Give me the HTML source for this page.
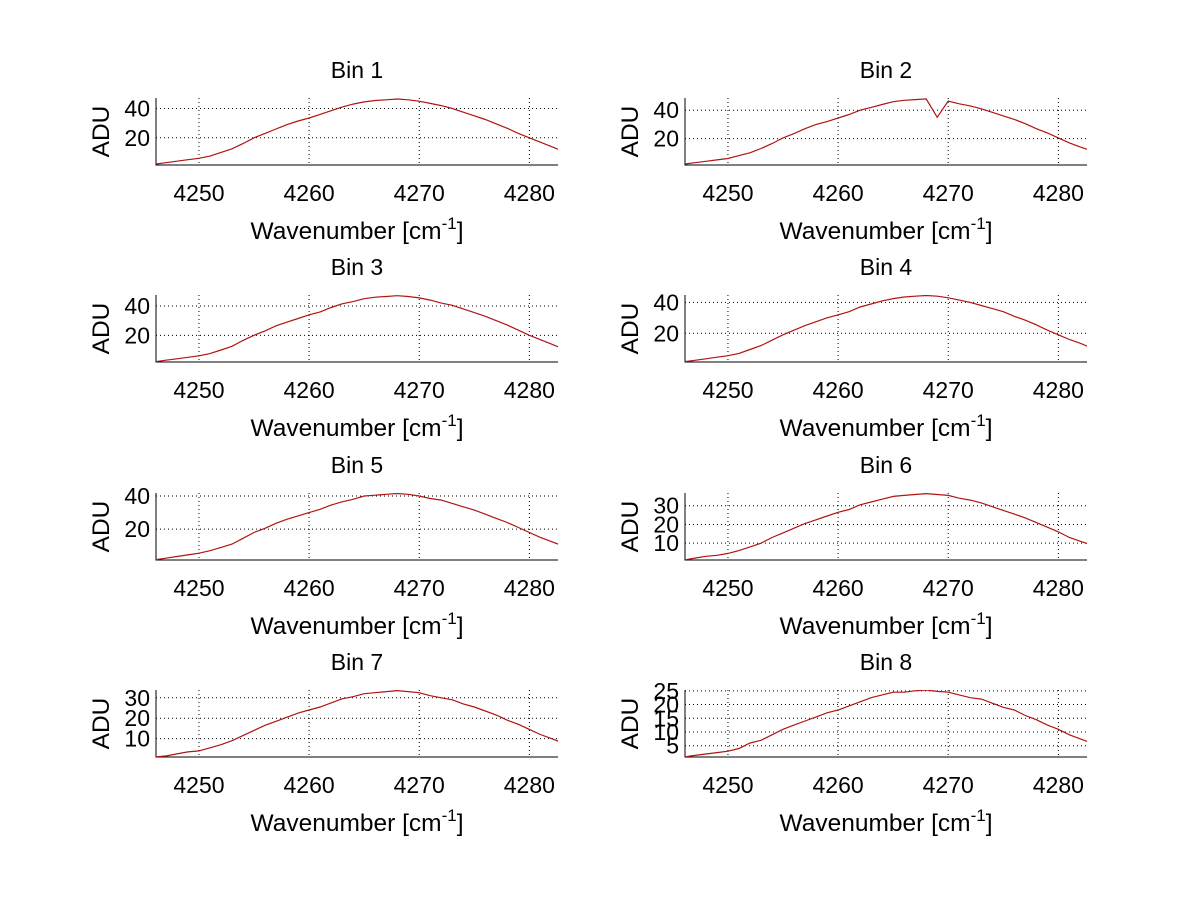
<!DOCTYPE html>
<html><head><meta charset="utf-8"><style>
html,body{margin:0;padding:0;background:#fff;}
svg{display:block;font-family:"Liberation Sans",sans-serif;}
</style></head><body>
<svg id="fig" width="1200" height="901" viewBox="0 0 1200 901" xmlns="http://www.w3.org/2000/svg"></svg>
<script>
const wavenumbers=[4246,4247,4248,4249,4250,4251,4252,4253,4254,4255,4256,4257,4258,4259,4260,4261,4262,4263,4264,4265,4266,4267,4268,4269,4270,4271,4272,4273,4274,4275,4276,4277,4278,4279,4280,4281,4282,4283];
const bin1=[2,3,4,5,6,7.5,10,12.5,16,20,23,26,29,31.5,33.5,36,38.5,41,43,44.5,45.5,46,46.5,46,45,43.5,42,40,37.5,35,32.5,29.5,26.5,23,20,17,14,11];
const bin2=[2,3,4,5,6,8,10,13,16.5,20.5,23.5,27,30,32,34.5,37,40,42,44,46,47,47.5,48,35,46.5,44.5,43,41,38.5,36,33.5,30.5,27,24,20.5,17,14,11.5];
const bin3=[2,3,4,5,6,7.5,10,12.5,16.5,20,23,26.5,29,31.5,34,36,39,41.5,43,45,46,46.5,47,46.5,45.5,44,42,40.5,38,35.5,33,30,27,23.5,20,17,14,11];
const bin4=[1.5,2.5,3.5,4.5,5.5,7,9.5,12,15.5,19,22,25,27.5,30,32,34,37,39,41,42.5,43.5,44,44.5,44,43,41.5,40,38,36,34,31,28.5,25.5,22,19,16,13.5,10.5];
const bin5=[1.5,2.5,3.5,4.5,5.5,7,9,11,14.5,18,20.5,23.5,26,28,30,32,34.5,36.5,38,40,40.5,41,41.5,41,40,38.5,37.5,35.5,33.5,31.5,29,26.5,24,21,18,15,12.5,10];
const bin6=[1,2,3,3.5,4.5,6,8,10,13,15.5,18,20.5,22.5,24.5,26.5,28,30.5,32,33.5,35,35.5,36,36.5,36,35.5,34,33,31.5,29.5,27.5,25.5,23.5,21,18.5,16,13,11,9];
const bin7=[1,1.5,2.5,3.5,4,5.5,7,9,11.5,14,16.5,18.5,20.5,22.5,24,25.5,27.5,29.5,30.5,32,32.5,33,33.5,33,32.5,31,30,29,27,25.5,23.5,21.5,19,17,14.5,12,10,8];
const bin8=[0.9,1.5,2,2.5,3,4,6,7,9,11,12.5,14,15.5,17,18,19.5,21,22.5,23.5,24.5,24.5,25,25.3,24.8,24.5,23.5,22.5,22,20.5,19,18,16,14.5,12.5,11,9,7.5,6];
const binSeries=[bin1,bin2,bin3,bin4,bin5,bin6,bin7,bin8];
const binTitles=["Bin 1","Bin 2","Bin 3","Bin 4","Bin 5","Bin 6","Bin 7","Bin 8"];
const yMins=[1.4,1.4,1.8,1.4,1.4,1,1,0.9];
const yMaxs=[47.2,48.6,47.5,44.8,41.8,36.8,33.8,25.3];
const yTicks=[[20,40],[20,40],[20,40],[20,40],[20,40],[10,20,30],[10,20,30],[5,10,15,20,25]];
const xTicks=[4250,4260,4270,4280];
const xMin=4246.1, xMax=4282.6;

const NS="http://www.w3.org/2000/svg";
const svg=document.getElementById('fig');
function mk(tag,attrs,parent){const e=document.createElementNS(NS,tag);for(const k in attrs)e.setAttribute(k,attrs[k]);(parent||svg).appendChild(e);return e;}
const lefts=[156,685], W=402, tops=[98,295,493,690], H=67;
binSeries.forEach((data,i)=>{
  const col=i%2,row=Math.floor(i/2);
  const L=lefts[col],T=tops[row],B=T+H,R=L+W;
  const xs=v=>L+(v-xMin)/(xMax-xMin)*W;
  const ys=v=>B-(v-yMins[i])/(yMaxs[i]-yMins[i])*H;
  const g=mk('g',{});
  
  
  const cp=mk('clipPath',{id:'c'+i},g);mk('rect',{x:L,y:T,width:W,height:H},cp);
  xTicks.forEach(t=>{
    const x=xs(t);
    const gl=mk('line',{x1:x,x2:x,y1:T,y2:B,stroke:'#000','stroke-width':1,'stroke-dasharray':'1,3'},g);
    
    
    const tl=mk('text',{x:x,y:B+36,'font-size':23,'text-anchor':'middle',fill:'#000'},g);
    tl.textContent=t;
    
    
  });
  yTicks[i].forEach(t=>{
    const y=ys(t);
    const gl=mk('line',{x1:L,x2:R,y1:y,y2:y,stroke:'#000','stroke-width':1,'stroke-dasharray':'1,3'},g);
    
    
    const tl=mk('text',{x:L-6,y:y+8,'font-size':23,'text-anchor':'end',fill:'#000'},g);
    tl.textContent=t;
    
    
  });
  const ax=mk('path',{d:`M${L},${T}V${B}H${R}`,fill:'none',stroke:'#000','stroke-width':1},g);
  
  
  const pts=data.map((v,k)=>xs(wavenumbers[k]).toFixed(1)+','+ys(v).toFixed(1)).join(' ');
  const pl=mk('polyline',{points:pts,fill:'none',stroke:'#b01414','stroke-width':1.2,'clip-path':'url(#c'+i+')'},g);
  
  
  const ti=mk('text',{x:(L+R)/2,y:T-20,'font-size':23,'text-anchor':'middle',fill:'#000'},g);
  ti.textContent=binTitles[i];
  
  
  const xl=mk('text',{x:(L+R)/2,y:B+74,'font-size':24.5,'text-anchor':'middle',fill:'#000'},g);
  
  
  const t1=mk('tspan',{},xl);t1.textContent='Wavenumber [cm';
  const t2=mk('tspan',{dy:-10,'font-size':17},xl);t2.textContent='-1';
  const t3=mk('tspan',{dy:10},xl);t3.textContent=']';
  const yl=mk('text',{x:0,y:0,'font-size':24.5,'text-anchor':'middle',fill:'#000',transform:`translate(${L-47},${(T+B)/2}) rotate(-90)`},g);
  yl.textContent='ADU';
  
  
});
</script>
</body></html>
